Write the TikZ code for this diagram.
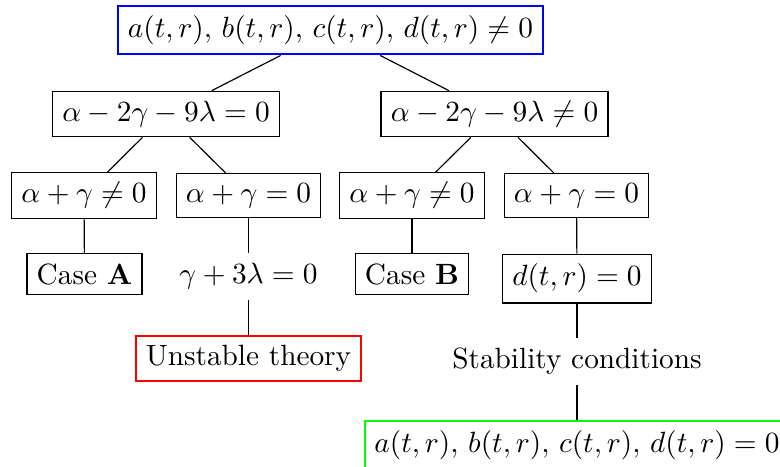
\documentclass[tikz,border=0pt]{standalone}
\begin{document}
\begin{tikzpicture}[x=0.3413pt,y=-0.3413pt,
  box/.style={draw,inner sep=3.33pt},
  plain/.style={inner sep=3.33pt},
  bluebox/.style={draw=blue,line width=0.7pt,inner sep=3.33pt},
  redbox/.style={draw=red,line width=0.7pt,inner sep=3.33pt},
  greenbox/.style={draw=green,line width=0.7pt,inner sep=3.33pt},
  edge/.style={draw,line width=0.4pt}]
\useasboundingbox (0,0) rectangle (780,466);
\node[bluebox] (root) at (330.5,30) {$a(t,r),\, b(t,r),\, c(t,r),\, d(t,r)\neq 0$};
\node[box] (l1a) at (166,114) {$\alpha-2\gamma-9\lambda=0$};
\node[box] (l1b) at (494.5,114) {$\alpha-2\gamma-9\lambda\neq 0$};
\node[box] (l2a) at (84,195.5) {$\alpha+\gamma\neq 0$};
\node[box] (l2b) at (248.5,195.5) {$\alpha+\gamma=0$};
\node[box] (l2c) at (412,195.5) {$\alpha+\gamma\neq 0$};
\node[box] (l2d) at (576.5,195.5) {$\alpha+\gamma=0$};
\node[box] (casea) at (84.5,274) {Case $\mathbf{A}$};
\node[plain] (gam) at (248.5,276.5) {$\gamma+3\lambda=0$};
\node[box] (caseb) at (412,274) {Case $\mathbf{B}$};
\node[box] (dzero) at (577,278.5) {$d(t,r)=0$};
\node[redbox] (unst) at (248.5,358.5) {Unstable theory};
\node[plain] (stab) at (577,361.5) {Stability conditions};
\node[greenbox] (fin) at (577,445) {$a(t,r),\, b(t,r),\, c(t,r),\, d(t,r)=0$};
\path[edge] (root) -- (l1a);
\path[edge] (root) -- (l1b);
\path[edge] (l1a) -- (l2a);
\path[edge] (l1a) -- (l2b);
\path[edge] (l1b) -- (l2c);
\path[edge] (l1b) -- (l2d);
\path[edge] (l2a) -- (casea);
\path[edge] (l2b) -- (gam);
\path[edge] (l2c) -- (caseb);
\path[edge] (l2d) -- (dzero);
\path[edge] (gam) -- (unst);
\path[edge] (dzero) -- (stab);
\path[edge] (stab) -- (fin);
\end{tikzpicture}
\end{document}
